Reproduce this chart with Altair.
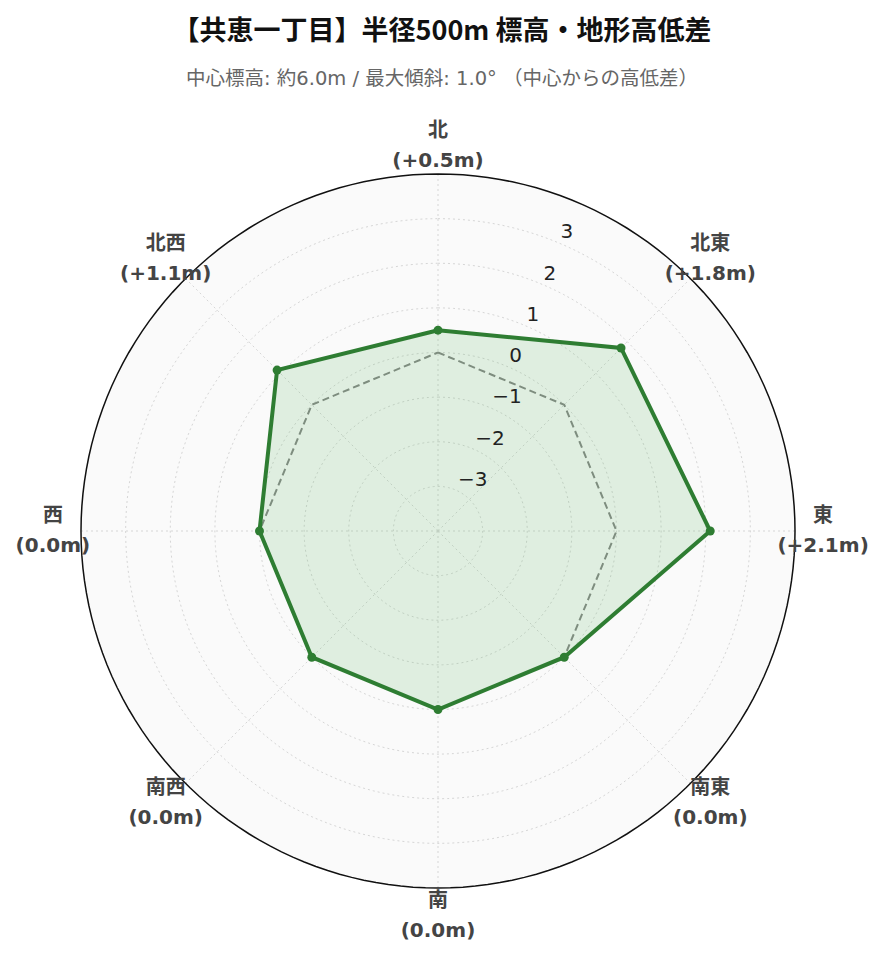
import altair as alt
import pandas as pd

# ---------------- data ----------------
directions = ["北", "北東", "東", "南東", "南", "南西", "西", "北西"]
angles_deg = [0, 45, 90, 135, 180, 225, 270, 315]
elev_diff = [0.5, 1.8, 2.1, 0.0, 0.0, 0.0, 0.0, 1.1]
ref_values = [0.0, 0.0, 0.0, 0.0, 0.0, 0.0, 0.0, 0.0]
value_labels = ["(+0.5m)", "(+1.8m)", "(+2.1m)", "(0.0m)", "(0.0m)", "(0.0m)", "(0.0m)", "(+1.1m)"]
radial_ticks = [-3, -2, -1, 0, 1, 2, 3]
radial_tick_labels = ["−3", "−2", "−1", "0", "1", "2", "3"]
r_min, r_max = -4, 4
tick_angle = 22.5
label_radius_extra = 0.63

title = "【共恵一丁目】半径500m 標高・地形高低差"
subtitle = "中心標高: 約6.0m / 最大傾斜: 1.0° （中心からの高低差）"

FONT = "DejaVu Sans, Noto Sans CJK JP, sans-serif"
CJK_FONT = "Noto Sans CJK JP, DejaVu Sans, sans-serif"
GREEN = "#2e7d32"

# ---------------- tables ----------------
n = len(directions)
series = pd.DataFrame({
    "idx": list(range(n)) + [n],
    "dir": directions + [directions[0]],
    "angle": angles_deg + [angles_deg[0]],
    "value": elev_diff + [elev_diff[0]],
    "ref": ref_values + [ref_values[0]],
})
points = series.iloc[:n].copy()

labels = pd.DataFrame({
    "angle": angles_deg,
    "r": [r_max] * n,
    "text": [d + "\n" + v for d, v in zip(directions, value_labels)],
})

circle_angles = list(range(0, 361, 2))
grid = pd.DataFrame(
    [{"tick": t, "angle": a, "ord": i} for t in radial_ticks for i, a in enumerate(circle_angles)]
)
outer = pd.DataFrame({"angle": circle_angles, "ord": list(range(len(circle_angles))), "tick": r_max})
spokes = pd.DataFrame(
    [{"angle": a, "tick": t, "ord": j} for a in angles_deg for j, t in enumerate([r_min, r_max])]
)
ticks = pd.DataFrame({"tick": radial_ticks, "text": radial_tick_labels, "angle": tick_angle})

# ---------------- scales ----------------
W, H = 868, 836
PX = 357 / (r_max - r_min)      # pixels per radial unit
cx, cy = 430, 413               # center inside plot area
xs = alt.Scale(domain=[-cx / PX, (W - cx) / PX], nice=False, zero=False)
ys = alt.Scale(domain=[-(H - cy) / PX, cy / PX], nice=False, zero=False)


def xy(order=None):
    enc = dict(
        x=alt.X("px:Q", scale=xs, axis=None),
        y=alt.Y("py:Q", scale=ys, axis=None),
    )
    if order:
        enc["order"] = alt.Order(f"{order}:Q")
    return enc


def base(df, field, extra=0):
    r = f"(datum.{field} - ({r_min}) + {extra})"
    return alt.Chart(df).transform_calculate(
        px=f"{r} * sin(datum.angle * PI / 180)",
        py=f"{r} * cos(datum.angle * PI / 180)",
    )


background = base(outer, "tick").mark_line(
    fill="#fafafa", stroke="#fafafa", strokeWidth=0
).encode(**xy("ord"))

grid_lines = base(grid, "tick").mark_line(
    color="#d6d6d6", strokeWidth=1, strokeDash=[2, 3]
).encode(**xy("ord"), detail="tick:N")

spoke_lines = base(spokes, "tick").mark_line(
    color="#d6d6d6", strokeWidth=1, strokeDash=[2, 3]
).encode(**xy("ord"), detail="angle:N")

ref_line = base(series, "ref").mark_line(
    color="#888888", strokeWidth=2, strokeDash=[7, 4]
).encode(**xy("idx"))

area = base(series, "value").mark_line(
    fill="#4caf50", fillOpacity=0.15, stroke=GREEN, strokeWidth=4
).encode(**xy("idx"))

dots = base(points, "value").mark_circle(
    size=80, color=GREEN, opacity=1
).encode(**xy())

outer_line = base(outer, "tick").mark_line(
    color="#111111", strokeWidth=1.5
).encode(**xy("ord"))

tick_text = base(ticks, "tick").mark_text(
    align="left", baseline="middle", dx=3, dy=-10, fontSize=20, font=FONT, color="#222222"
).encode(**xy(), text="text:N")

dir_text = base(labels, "r", extra=label_radius_extra).mark_text(
    align="center", baseline="middle", dy=-15, fontSize=20, fontWeight="bold", font=FONT,
    color="#444444", lineBreak="\n", lineHeight=30
).encode(**xy(), text="text:N")

chart = alt.layer(
    background, grid_lines, spoke_lines, ref_line, area, dots, outer_line, tick_text, dir_text
).properties(
    width=W,
    height=H,
    padding={"top": 110, "left": 0, "right": 0, "bottom": 0},
    autosize=alt.AutoSizeParams(type="none"),
    title=alt.TitleParams(
        text=title,
        subtitle=subtitle,
        fontSize=27,
        font=CJK_FONT,
        fontWeight="bold",
        color="#111111",
        subtitleFontSize=19.5,
        subtitleFont=FONT,
        subtitleColor="#666666",
        subtitlePadding=24,
        offset=29,
        anchor="middle",
        frame="group",
    ),
).configure(
    background="white",
    view=alt.ViewConfig(stroke="transparent", strokeWidth=0),
)

chart.save("out.html", embed_options={"renderer": "svg", "actions": False})
